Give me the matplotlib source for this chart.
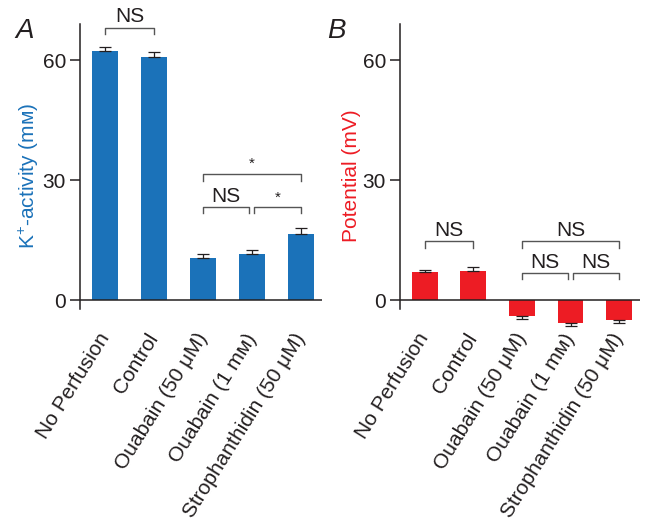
import numpy as np
import matplotlib
matplotlib.use("Agg")
import matplotlib.pyplot as plt

plt.rcParams['font.family'] = ['Liberation Sans', 'DejaVu Sans']
plt.rcParams['mathtext.fontset'] = 'custom'
plt.rcParams['mathtext.rm'] = 'Liberation Sans'

### DATA ###
labels = ["No Perfusion", "Control", "Ouabain (50 \u03bcM)", "Ouabain (1 m\u1d0d)",
          "Strophanthidin (50 \u03bcM)"]
k_activity = [62.3, 60.8, 10.5, 11.5, 16.5]
k_err = [0.9, 1.1, 1.1, 1.1, 1.4]
potential = [7.0, 7.3, -3.9, -5.7, -4.9]
pot_err = [0.5, 0.9, 0.9, 0.8, 0.8]

blue = '#1b72b9'
red = '#ed1c24'
ink = '#231f20'
gray = '#555555'


def bracket(ax, x1, x2, y, h, text, fs=15, dy=1.0):
    ax.plot([x1, x1, x2, x2], [y - h, y, y, y - h], color=gray, lw=1.0, clip_on=False)
    ax.text((x1 + x2) / 2, y + dy, text, ha='center', va='bottom', fontsize=fs, color=ink)


def setup(ax, vals, errs, color, ylabel):
    x = np.arange(len(vals))
    ax.bar(x, vals, width=0.53, color=color, clip_on=False, zorder=2)
    # one-sided error bars pointing away from zero
    for xi, v, e in zip(x, vals, errs):
        sign = 1 if v >= 0 else -1
        ax.errorbar(xi, v + sign * e / 2, yerr=e / 2, color=ink, lw=0.9, capsize=4.5,
                    capthick=0.9, clip_on=False, zorder=3)
    ax.set_xlim(-0.51, 4.43)
    ax.set_ylim(-7, 69)
    for s in ['top', 'right', 'bottom']:
        ax.spines[s].set_visible(False)
    ax.spines['left'].set_bounds(-2.3, 69)
    ax.spines['left'].set_color(ink)
    ax.spines['left'].set_linewidth(1.1)
    ax.axhline(0, color=ink, lw=1.1, zorder=4)
    ax.set_yticks([0, 30, 60])
    ax.tick_params(axis='y', length=7, width=1.1, colors=ink, labelsize=15, pad=3)
    ax.set_xticks(x)
    ax.set_xticklabels(labels, rotation=58, ha='right', va='center', rotation_mode='anchor',
                       fontsize=15, color=ink)
    ax.tick_params(axis='x', length=0, pad=5)
    ax.set_ylabel(ylabel, color=color, fontsize=15, labelpad=1)


fig = plt.figure(figsize=(6.48, 5.2), dpi=100)
axA = fig.add_axes([80 / 648, 1 - 328 / 520, 242 / 648, 304 / 520])
axB = fig.add_axes([400 / 648, 1 - 328 / 520, 240 / 648, 304 / 520])

setup(axA, k_activity, k_err, blue, "K$^{+}$-activity (m\u1d0d)")
setup(axB, potential, pot_err, red, "Potential (mV)")

# significance markers, panel A
bracket(axA, 0, 1, 68.1, 1.7, "NS", dy=0.3)
bracket(axA, 2, 4, 31.6, 1.8, "*", fs=11, dy=0.6)
bracket(axA, 2, 2.95, 23.3, 1.6, "NS", dy=0.3)
bracket(axA, 3.05, 4, 23.3, 1.6, "*", fs=11, dy=0.6)

# significance markers, panel B
bracket(axB, 0, 1, 14.8, 1.7, "NS", dy=0.3)
bracket(axB, 2, 4, 14.8, 1.7, "NS", dy=0.3)
bracket(axB, 2, 2.95, 6.7, 1.5, "NS", dy=0.3)
bracket(axB, 3.05, 4, 6.7, 1.5, "NS", dy=0.3)

fig.text(15 / 648, 1 - 38 / 520, "A", fontsize=20, style='italic', color=ink)
fig.text(327 / 648, 1 - 38 / 520, "B", fontsize=20, style='italic', color=ink)

fig.savefig("out.png", dpi=100)
